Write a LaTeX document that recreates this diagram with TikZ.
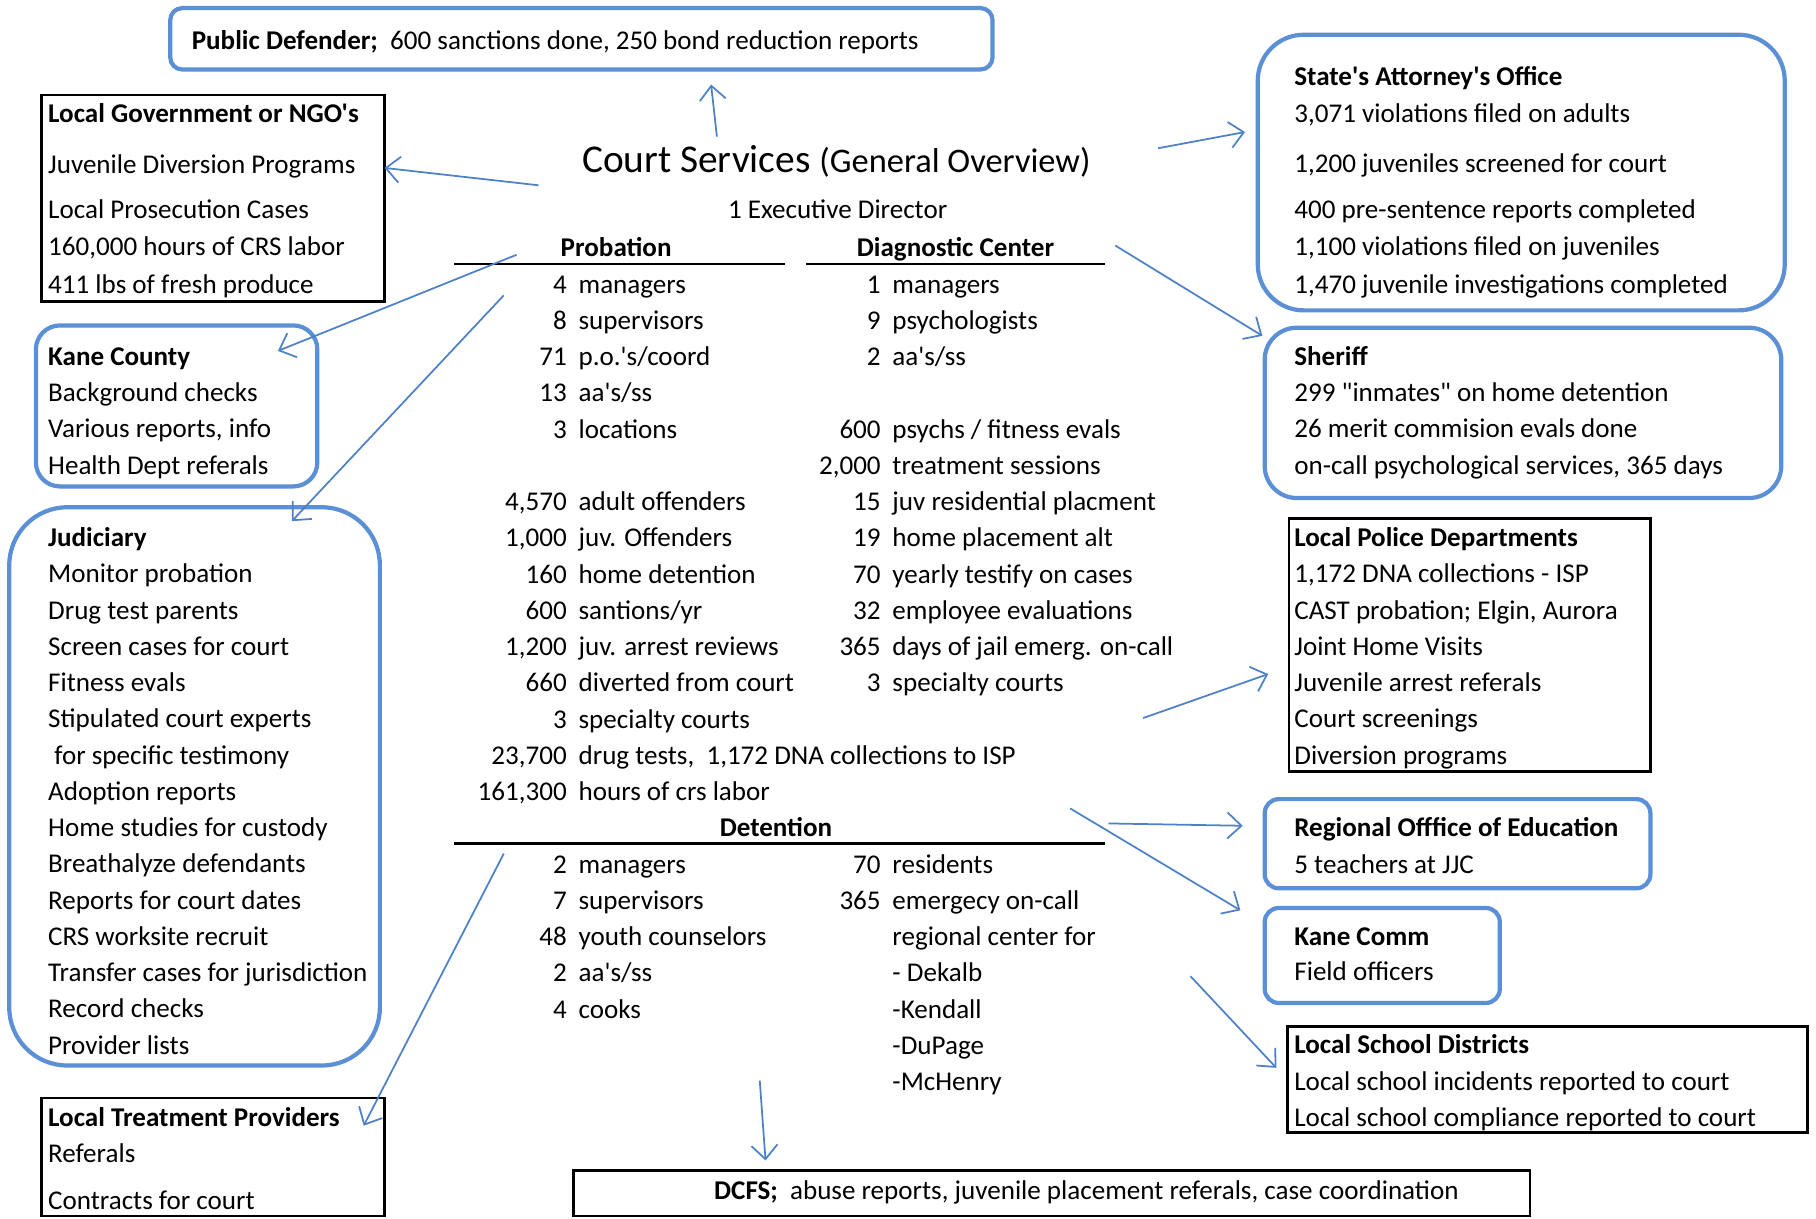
\documentclass[tikz,border=0pt]{standalone}
\usepackage{fontspec}
\newfontfamily\calibri{Carlito}
\usetikzlibrary{arrows.meta}
\definecolor{boxblue}{RGB}{91,143,214}
\definecolor{linkblue}{RGB}{79,129,199}
\newcommand{\px}{0.01158cm}
\newcommand{\rowgap}{31.3}
\newcommand{\firstrow}{253}
\newcommand{\probnumx}{490}
\newcommand{\probtextx}{499}
\newcommand{\diagnumx}{761}
\newcommand{\diagtextx}{770}
\newcommand{\leftx}{41}
\newcommand{\rightx}{1117}

\begin{document}
\begin{tikzpicture}[x=\px,y=-\px]
\tikzstyle{item}=[anchor=base west,inner sep=0pt,font=\calibri\fontsize{7.7}{9}\selectfont]
\tikzstyle{num}=[item,anchor=base east]
\tikzstyle{head}=[item,anchor=base,font=\calibri\bfseries\fontsize{7.7}{9}\selectfont]
\tikzstyle{bluebox}=[draw=boxblue,line width=1.2pt,anchor=north west,inner sep=0pt,outer sep=0pt]
\tikzstyle{blackbox}=[draw=black,line width=0.8pt,anchor=north west,inner sep=0pt,outer sep=0pt]
\tikzstyle{rule}=[line width=0.8pt]
\tikzstyle{link}=[linkblue,line width=0.5pt,-{Straight Barb[length=1.4mm,width=2.6mm]}]
\useasboundingbox (0,0) rectangle (1568,1052);

%% boxes round the centre
\node (pubdef) [bluebox,rounded corners=0.12cm,minimum width=710*\px,minimum height=53*\px] at (147,7) {};
\node (localgov) [blackbox,minimum width=296*\px,minimum height=178*\px] at (36,82) {};
\node (stateatt) [bluebox,rounded corners=0.46cm,minimum width=455*\px,minimum height=238*\px] at (1086,30) {};
\node (sheriff) [bluebox,rounded corners=0.32cm,minimum width=446*\px,minimum height=147*\px] at (1092,283) {};
\node (kanecounty) [bluebox,rounded corners=0.24cm,minimum width=243*\px,minimum height=139*\px] at (31,281) {};
\node (judiciary) [bluebox,rounded corners=0.58cm,minimum width=320*\px,minimum height=482*\px] at (8,438) {};
\node (treatment) [blackbox,minimum width=296*\px,minimum height=102*\px] at (36,948) {};
\node (police) [blackbox,minimum width=312*\px,minimum height=218*\px] at (1113,448) {};
\node (regional) [bluebox,rounded corners=0.14cm,minimum width=333*\px,minimum height=77*\px] at (1092,690) {};
\node (kanecomm) [bluebox,rounded corners=0.14cm,minimum width=203*\px,minimum height=82*\px] at (1092,784) {};
\node (schools) [blackbox,minimum width=449*\px,minimum height=92*\px] at (1112,886) {};
\node (dcfs) [blackbox,minimum width=826*\px,minimum height=39*\px] at (495,1011) {};

%% box texts
\node (pubdef-t) [item] at (165,43) {\textbf{Public Defender;}\ \ 600 sanctions done, 250 bond reduction reports};
\node (dcfs-t) [item] at (616,1036) {\textbf{DCFS;}\ \ abuse reports, juvenile placement referals, case coordination};
\foreach \y/\t [count=\i] in {106/{\bfseries Local Government or NGO's},150/Juvenile Diversion Programs,189/Local Prosecution Cases,221/{160,000 hours of CRS labor},253/411 lbs of fresh produce}
  \node (localgov-\i) [item] at (\leftx,\y) {\t};
\foreach \y/\t [count=\i] in {74/{\bfseries State's Attorney's Office},106/{3,071 violations filed on adults},149/{1,200 juveniles screened for court},189/400 pre-sentence reports completed,221/{1,100 violations filed on juveniles},253/{1,470 juvenile investigations completed}}
  \node (stateatt-\i) [item] at (\rightx,\y) {\t};
\foreach \y/\t [count=\i] in {316/{\bfseries Sheriff},347/299 "inmates" on home detention,378/26 merit commision evals done,410/{on-call psychological services, 365 days}}
  \node (sheriff-\i) [item] at (\rightx,\y) {\t};
\foreach \y/\t [count=\i] in {316/{\bfseries Kane County},347/Background checks,378/{Various reports, info},410/Health Dept referals}
  \node (kanecounty-\i) [item] at (\leftx,\y) {\t};
\foreach \t [count=\i from 0] in {{\bfseries Judiciary},Monitor probation,Drug test parents,Screen cases for court,Fitness evals,Stipulated court experts,\ for specific testimony,Adoption reports,Home studies for custody,Breathalyze defendants,Reports for court dates,CRS worksite recruit,Transfer cases for jurisdiction,Record checks,Provider lists}
  \node (judiciary-\i) [item] at (\leftx,{472+\rowgap*\i}) {\t};
\foreach \y/\t [count=\i] in {973/{\bfseries Local Treatment Providers},1004/Referals,1044/Contracts for court}
  \node (treatment-\i) [item] at (\leftx,\y) {\t};
\foreach \t [count=\i from 0] in {{\bfseries Local Police Departments},{1,172 DNA collections - ISP},{CAST probation; Elgin, Aurora},Joint Home Visits,Juvenile arrest referals,Court screenings,Diversion programs}
  \node (police-\i) [item] at (\rightx,{472+\rowgap*\i}) {\t};
\foreach \y/\t [count=\i] in {722/{\bfseries Regional Offfice of Education},754/5 teachers at JJC}
  \node (regional-\i) [item] at (\rightx,\y) {\t};
\foreach \y/\t [count=\i] in {816/{\bfseries Kane Comm},847/Field officers}
  \node (kanecomm-\i) [item] at (\rightx,\y) {\t};
\foreach \y/\t [count=\i] in {910/{\bfseries Local School Districts},942/Local school incidents reported to court,973/Local school compliance reported to court}
  \node (schools-\i) [item] at (\rightx,\y) {\t};

%% title
\node (title) [item,font=\calibri\fontsize{11.2}{13}\selectfont] at (502,149) {Court Services {\fontsize{9.8}{11}\selectfont (General Overview)}};
\node (director) [item] at (628,189) {1 Executive Director};

%% probation and diagnostic center
\node (prob-head) [head] at (532,{\firstrow-\rowgap}) {Probation};
\node (diag-head) [head] at (825,{\firstrow-\rowgap}) {Diagnostic Center};
\draw[rule] (392,228) -- (678,228);
\draw[rule] (696,228) -- (954,228);
\foreach \r/\n/\t in {0/4/managers,1/8/supervisors,2/71/{p.o.'s/coord},3/13/{aa's/ss},4/3/locations,6/{4,570}/adult offenders,7/{1,000}/juv. Offenders,8/160/home detention,9/600/{santions/yr},10/{1,200}/juv. arrest reviews,11/660/diverted from court,12/3/specialty courts,13/{23,700}/{drug tests,\ \ 1,172 DNA collections to ISP},14/{161,300}/hours of crs labor}{
  \node (prob-n\r) [num] at (\probnumx,{\firstrow+\rowgap*\r}) {\n};
  \node (prob-\r) [item] at (\probtextx,{\firstrow+\rowgap*\r}) {\t};
}
\foreach \r/\n/\t in {0/1/managers,1/9/psychologists,2/2/{aa's/ss},4/600/{psychs / fitness evals},5/{2,000}/treatment sessions,6/15/juv residential placment,7/19/home placement alt,8/70/yearly testify on cases,9/32/employee evaluations,10/365/days of jail emerg. on-call,11/3/specialty courts}{
  \node (diag-n\r) [num] at (\diagnumx,{\firstrow+\rowgap*\r}) {\n};
  \node (diag-\r) [item] at (\diagtextx,{\firstrow+\rowgap*\r}) {\t};
}

%% detention
\node (det-head) [head] at (670,{\firstrow+\rowgap*15}) {Detention};
\draw[rule] (392,728) -- (954,728);
\foreach \r/\n/\t in {16/2/managers,17/7/supervisors,18/48/youth counselors,19/2/{aa's/ss},20/4/cooks}{
  \node (detl-n\r) [num] at (\probnumx,{\firstrow+\rowgap*\r}) {\n};
  \node (detl-\r) [item] at (\probtextx,{\firstrow+\rowgap*\r}) {\t};
}
\foreach \r/\n/\t in {16/70/residents,17/365/emergecy on-call}{
  \node (detr-n\r) [num] at (\diagnumx,{\firstrow+\rowgap*\r}) {\n};
  \node (detr-\r) [item] at (\diagtextx,{\firstrow+\rowgap*\r}) {\t};
}
\foreach \r/\t in {18/regional center for,19/- Dekalb,20/-Kendall,21/-DuPage,22/-McHenry}
  \node (detr-\r) [item] at (\diagtextx,{\firstrow+\rowgap*\r}) {\t};

%% arrow ends
\coordinate (pd-from) at (619,118);   \coordinate (pd-to) at (614,73);
\coordinate (lg-from) at (465,160);   \coordinate (lg-to) at (332,145);
\coordinate (sa-from) at (1000,128);  \coordinate (sa-to) at (1075,114);
\coordinate (kc-from) at (446,220);   \coordinate (kc-to) at (240,303);
\coordinate (jud-from) at (435,255);  \coordinate (jud-to) at (252,450);
\coordinate (sh-from) at (963,212);   \coordinate (sh-to) at (1090,290);
\coordinate (pol-from) at (987,620);  \coordinate (pol-to) at (1095,582);
\coordinate (roe-from) at (957,711);  \coordinate (roe-to) at (1073,713);
\coordinate (kcm-from) at (924,698);  \coordinate (kcm-to) at (1071,786);
\coordinate (sch-from) at (1028,843); \coordinate (sch-to) at (1102,922);
\coordinate (dc-from) at (656,933);   \coordinate (dc-to) at (661,1002);
\coordinate (ltp-from) at (435,737);  \coordinate (ltp-to) at (314,972);

%% arrows
\foreach \s in {pd,lg,sa,kc,jud,sh,pol,roe,kcm,sch,dc,ltp}
  \draw[link] (\s-from) -- (\s-to);

\end{tikzpicture}
\end{document}
